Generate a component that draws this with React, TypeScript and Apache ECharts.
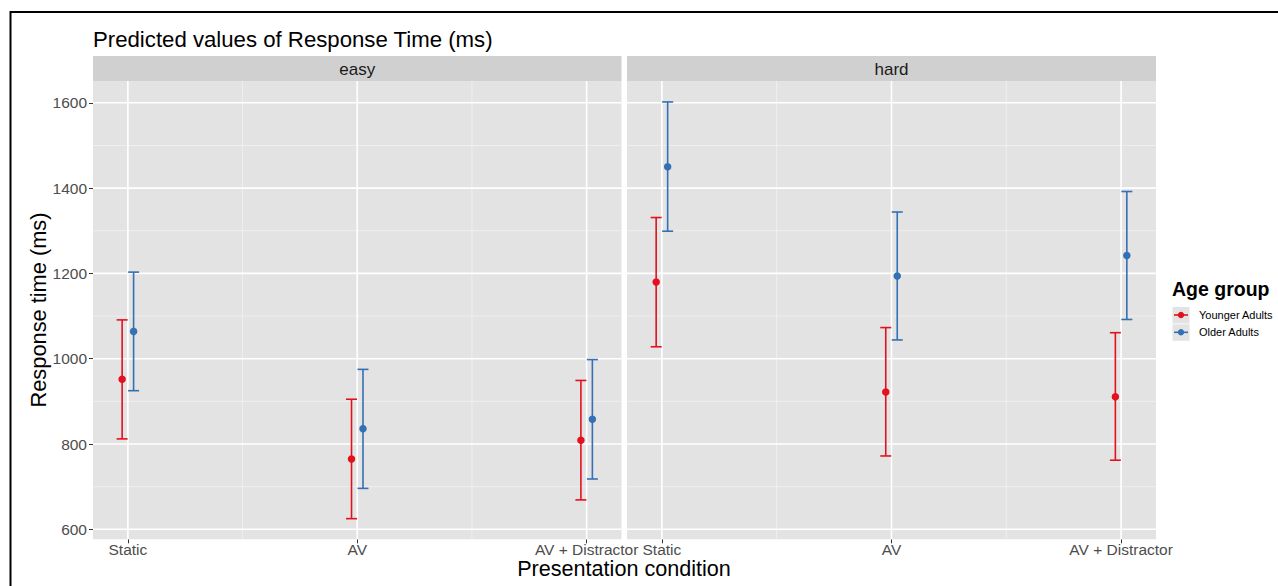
import React, { useEffect, useRef } from 'react';
import * as echarts from 'echarts';

const conditions = ['Static', 'AV', 'AV + Distractor'];
const panels = ['easy', 'hard'];
const groups = ['Younger Adults', 'Older Adults'];
const groupColors = ['#E3111E', '#3470B3'];

const yTicks = [600, 800, 1000, 1200, 1400, 1600];
const yMinor = [700, 900, 1100, 1300, 1500];
const xMajor = [1, 2, 3];
const xMinor = [1.5, 2.5];

// easy
const easyYoungPred = [952, 765, 809];
const easyYoungLow = [812, 625, 669];
const easyYoungHigh = [1091, 905, 949];
const easyOldPred = [1064, 836, 858];
const easyOldLow = [925, 696, 718];
const easyOldHigh = [1203, 975, 998];
// hard
const hardYoungPred = [1180, 922, 911];
const hardYoungLow = [1028, 772, 762];
const hardYoungHigh = [1331, 1073, 1061];
const hardOldPred = [1450, 1194, 1242];
const hardOldLow = [1299, 1044, 1092];
const hardOldHigh = [1602, 1344, 1392];

const FONT = '"Liberation Sans", Arial, sans-serif';

export default function App() {
  const ref = useRef<HTMLDivElement>(null);
  useEffect(() => {
    document.body.style.margin = '0';
    const chart = echarts.init(ref.current!, null, { renderer: 'svg' });

    const gridLefts = [93, 627];
    const gridWidths = [528.5, 529];
    const gridTop = 81;
    const gridHeight = 458.3;
    const dodge = [-0.025, 0.025];

    const panelData = [
      [
        { pred: easyYoungPred, low: easyYoungLow, high: easyYoungHigh },
        { pred: easyOldPred, low: easyOldLow, high: easyOldHigh },
      ],
      [
        { pred: hardYoungPred, low: hardYoungLow, high: hardYoungHigh },
        { pred: hardOldPred, low: hardOldLow, high: hardOldHigh },
      ],
    ];

    const grids: any[] = [];
    const xAxes: any[] = [];
    const yAxes: any[] = [];
    const series: any[] = [];
    const graphics: any[] = [];

    panels.forEach((p, pi) => {
      grids.push({
        left: gridLefts[pi],
        top: gridTop,
        width: gridWidths[pi],
        height: gridHeight,
        show: true,
        backgroundColor: '#E3E3E3',
        borderWidth: 0,
        containLabel: false,
        outerBoundsMode: 'none',
      });
      xAxes.push({
        gridIndex: pi,
        type: 'value',
        min: 0.848,
        max: 3.152,
        axisLine: { show: false },
        splitLine: { show: false },
        axisTick: { show: true, customValues: xMajor, length: 4, lineStyle: { color: '#333', width: 1 } },
        axisLabel: {
          show: true,
          customValues: xMajor,
          formatter: (v: number) => conditions[Math.round(v) - 1] ?? '',
          fontSize: 15.5,
          fontFamily: FONT,
          color: '#4D4D4D',
          margin: 2,
        },
      });
      yAxes.push({
        gridIndex: pi,
        type: 'value',
        min: 576.6,
        max: 1651.1,
        axisLine: { show: false },
        splitLine: { show: false },
        axisTick: { show: pi === 0, customValues: yTicks, length: 4, lineStyle: { color: '#333', width: 1 } },
        axisLabel: {
          show: pi === 0,
          customValues: yTicks,
          formatter: (v: number) => String(Math.round(v)),
          fontSize: 15.5,
          fontFamily: FONT,
          color: '#4D4D4D',
          margin: 6,
        },
      });

      // grid lines
      const gl: any[] = [];
      yMinor.forEach((v) => gl.push([2, v, 1]));
      xMinor.forEach((v) => gl.push([v, 1000, 3]));
      yTicks.forEach((v) => gl.push([2, v, 0]));
      xMajor.forEach((v) => gl.push([v, 1000, 2]));
      series.push({
        type: 'custom',
        xAxisIndex: pi,
        yAxisIndex: pi,
        silent: true,
        z: 1,
        data: gl,
        renderItem: (params: any, api: any) => {
          const cs = params.coordSys;
          const kind = api.value(2);
          if (kind === 0 || kind === 1) {
            const y = api.coord([2, api.value(1)])[1];
            return {
              type: 'line',
              shape: { x1: cs.x, y1: y, x2: cs.x + cs.width, y2: y },
              style: { stroke: kind === 0 ? '#FFFFFF' : '#F1F1F1', lineWidth: kind === 0 ? 1.6 : 0.9 },
            };
          }
          const x = api.coord([api.value(0), 1000])[0];
          return {
            type: 'line',
            shape: { x1: x, y1: cs.y, x2: x, y2: cs.y + cs.height },
            style: { stroke: kind === 2 ? '#FFFFFF' : '#F1F1F1', lineWidth: kind === 2 ? 1.6 : 0.9 },
          };
        },
      });

      groups.forEach((g, gi) => {
        const d = panelData[pi][gi];
        const color = groupColors[gi];
        series.push({
          type: 'custom',
          name: g,
          xAxisIndex: pi,
          yAxisIndex: pi,
          z: 3,
          silent: true,
          encode: { x: 0, y: [1, 2] },
          data: conditions.map((c, ci) => [ci + 1 + dodge[gi], d.low[ci], d.high[ci]]),
          renderItem: (params: any, api: any) => {
            const x = api.value(0);
            const lo = api.coord([x, api.value(1)]);
            const hi = api.coord([x, api.value(2)]);
            const w = 5.5;
            const st = { stroke: color, lineWidth: 1.6 };
            return {
              type: 'group',
              children: [
                { type: 'line', shape: { x1: lo[0], y1: lo[1], x2: hi[0], y2: hi[1] }, style: st },
                { type: 'line', shape: { x1: lo[0] - w, y1: lo[1], x2: lo[0] + w, y2: lo[1] }, style: st },
                { type: 'line', shape: { x1: hi[0] - w, y1: hi[1], x2: hi[0] + w, y2: hi[1] }, style: st },
              ],
            };
          },
        });
        series.push({
          type: 'scatter',
          name: g,
          xAxisIndex: pi,
          yAxisIndex: pi,
          z: 4,
          symbol: 'circle',
          symbolSize: 7.5,
          itemStyle: { color, opacity: 1 },
          silent: true,
          data: conditions.map((c, ci) => [ci + 1 + dodge[gi], d.pred[ci]]),
        });
      });

      // strip
      graphics.push({
        type: 'rect',
        shape: { x: gridLefts[pi], y: 56, width: gridWidths[pi], height: 25 },
        style: { fill: '#D0D0D0' },
      });
      graphics.push({
        type: 'text',
        x: gridLefts[pi] + gridWidths[pi] / 2,
        y: 69,
        style: {
          text: p,
          fontSize: 17,
          fontFamily: FONT,
          fill: '#1A1A1A',
          align: 'center',
          verticalAlign: 'middle',
        },
      });
    });

    // frame
    graphics.push({
      type: 'rect',
      shape: { x: 10.5, y: 12, width: 1400, height: 800 },
      style: { fill: 'none', stroke: '#000', lineWidth: 2 },
    });
    // title
    graphics.push({
      type: 'text',
      x: 93,
      y: 39.5,
      style: {
        text: 'Predicted values of Response Time (ms)',
        fontSize: 22.2,
        fontFamily: FONT,
        fill: '#000',
        align: 'left',
        verticalAlign: 'middle',
      },
    });
    // axis titles
    graphics.push({
      type: 'text',
      x: 624,
      y: 568.5,
      style: {
        text: 'Presentation condition',
        fontSize: 21.6,
        fontFamily: FONT,
        fill: '#000',
        align: 'center',
        verticalAlign: 'middle',
      },
    });
    graphics.push({
      type: 'text',
      x: 38,
      y: 310,
      rotation: Math.PI / 2,
      style: {
        text: 'Response time (ms)',
        fontSize: 21.8,
        fontFamily: FONT,
        fill: '#000',
        align: 'center',
        verticalAlign: 'middle',
      },
    });
    // legend
    graphics.push({
      type: 'text',
      x: 1172,
      y: 289,
      style: {
        text: 'Age group',
        fontSize: 19.5,
        fontWeight: 'bold',
        fontFamily: FONT,
        fill: '#000',
        align: 'left',
        verticalAlign: 'middle',
      },
    });
    groups.forEach((g, gi) => {
      const cy = 315 + gi * 17.3;
      graphics.push({
        type: 'rect',
        shape: { x: 1172.5, y: cy - 8, width: 17, height: 16.5 },
        style: { fill: '#E3E3E3' },
      });
      graphics.push({
        type: 'line',
        shape: { x1: 1174, y1: cy, x2: 1188, y2: cy },
        style: { stroke: groupColors[gi], lineWidth: 1.6 },
      });
      graphics.push({
        type: 'circle',
        shape: { cx: 1181, cy, r: 3.2 },
        style: { fill: groupColors[gi] },
      });
      graphics.push({
        type: 'text',
        x: 1199,
        y: cy,
        style: {
          text: g,
          fontSize: 11,
          fontFamily: FONT,
          fill: '#000',
          align: 'left',
          verticalAlign: 'middle',
        },
      });
    });

    chart.setOption({
      animation: false,
      textStyle: { fontFamily: FONT },
      grid: grids,
      xAxis: xAxes,
      yAxis: yAxes,
      series,
      graphic: graphics,
    });
    return () => chart.dispose();
  }, []);
  return <div ref={ref} style={{ width: 1278, height: 586 }} />;
}
